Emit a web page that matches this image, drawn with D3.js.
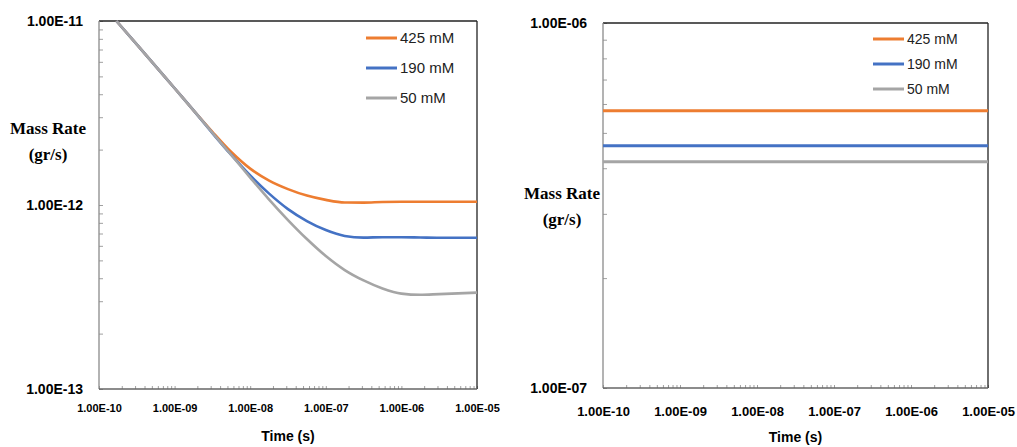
<!DOCTYPE html>
<html>
<head>
<meta charset="utf-8">
<script src="https://cdn.jsdelivr.net/npm/d3@7"></script>
<style>
body { margin: 0; background: #fff; }
svg { display: block; }
</style>
</head>
<body>
<div id="chart"></div>
<script>
// series names and colours (Excel default palette)
var seriesNames = ["425 mM", "190 mM", "50 mM"];
var seriesColors = ["#ED7D31", "#4472C4", "#A5A5A5"];

// left panel: mass rate vs time
var times = [1.7e-10, 3.16e-10, 1e-9, 1.78e-9, 3.16e-9, 5.62e-9, 1e-8, 1.78e-8, 3.16e-8, 5.62e-8,
             1e-7, 1.78e-7, 3.16e-7, 5.62e-7, 1e-6, 1.78e-6, 3.16e-6, 1e-5];
var rate425 = [1e-11, 7.47e-12, 4.31e-12, 3.27e-12, 2.50e-12, 1.94e-12, 1.576e-12, 1.357e-12, 1.22e-12, 1.125e-12,
               1.066e-12, 1.032e-12, 1.03e-12, 1.038e-12, 1.041e-12, 1.041e-12, 1.041e-12, 1.041e-12];
var rate190 = [1e-11, 7.47e-12, 4.31e-12, 3.27e-12, 2.46e-12, 1.87e-12, 1.446e-12, 1.153e-12, 9.50e-13, 8.18e-13,
               7.31e-13, 6.79e-13, 6.65e-13, 6.68e-13, 6.68e-13, 6.66e-13, 6.64e-13, 6.64e-13];
var rate50 = [1e-11, 7.47e-12, 4.31e-12, 3.27e-12, 2.47e-12, 1.87e-12, 1.41e-12, 1.07e-12, 8.28e-13, 6.53e-13,
              5.28e-13, 4.43e-13, 3.89e-13, 3.52e-13, 3.30e-13, 3.25e-13, 3.28e-13, 3.34e-13];

// right panel: constant rates
var flatTimes = [1e-10, 1e-5];
var flat425 = [5.75e-7, 5.75e-7];
var flat190 = [4.61e-7, 4.61e-7];
var flat50 = [4.17e-7, 4.17e-7];

// tick labels
var xTickLabels = ["1.00E-10", "1.00E-09", "1.00E-08", "1.00E-07", "1.00E-06", "1.00E-05"];
var leftYTickLabels = ["1.00E-13", "1.00E-12", "1.00E-11"];
var rightYTickLabels = ["1.00E-07", "1.00E-06"];

var sans = "Liberation Sans, Arial, sans-serif";

var svg = d3.select("#chart").append("svg")
  .attr("width", 1017)
  .attr("height", 447);

function drawPanel(p) {
  var x = d3.scaleLog().domain([1e-10, 1e-5]).range([p.left, p.right]);
  var y = d3.scaleLog().domain(p.yDomain).range([p.bottom, p.top]);
  var g = svg.append("g");

  var isMajor = function(d) { return Math.abs(Math.log10(d) - Math.round(Math.log10(d))) < 1e-9; };
  var xMajors = x.ticks().filter(isMajor);
  var yMajors = y.ticks().filter(isMajor);

  // x axis (ticks pointing inward)
  var xAxis = d3.axisBottom(x)
    .tickValues(x.ticks())
    .tickSize(-3)
    .tickPadding(p.xPad)
    .tickFormat(function(d) {
      var i = xMajors.findIndex(function(m) { return Math.abs(m - d) / m < 1e-6; });
      return i >= 0 ? xTickLabels[i] : "";
    });
  var gx = g.append("g")
    .attr("transform", "translate(0," + p.bottom + ")")
    .call(xAxis);
  gx.select(".domain").remove();
  gx.selectAll(".tick line").attr("stroke", "#a0a0a0");
  gx.selectAll(".tick text")
    .attr("font-family", sans)
    .attr("font-weight", "bold")
    .attr("font-size", p.xFont + "px")
    .attr("fill", "#000");

  // y axis (ticks pointing inward)
  var yAxis = d3.axisLeft(y)
    .tickValues(y.ticks())
    .tickSize(-4)
    .tickPadding(16)
    .tickFormat(function(d) {
      var i = yMajors.findIndex(function(m) { return Math.abs(m - d) / m < 1e-6; });
      return i >= 0 ? p.yLabels[i] : "";
    });
  var gy = g.append("g")
    .attr("transform", "translate(" + p.left + ",0)")
    .call(yAxis);
  gy.select(".domain").remove();
  gy.selectAll(".tick line").attr("stroke", "#a0a0a0");
  gy.selectAll(".tick text")
    .attr("font-family", sans)
    .attr("font-weight", "bold")
    .attr("font-size", "14px")
    .attr("fill", "#000");

  // frame
  g.append("line").attr("x1", p.left).attr("x2", p.right).attr("y1", p.top).attr("y2", p.top)
    .attr("stroke", "#222").attr("stroke-width", 1.3);
  g.append("line").attr("x1", p.right).attr("x2", p.right).attr("y1", p.top).attr("y2", p.bottom)
    .attr("stroke", "#222").attr("stroke-width", 1.3);
  g.append("line").attr("x1", p.left).attr("x2", p.left).attr("y1", p.top).attr("y2", p.bottom)
    .attr("stroke", "#8a8a8a").attr("stroke-width", 1.3);
  g.append("line").attr("x1", p.left).attr("x2", p.right).attr("y1", p.bottom).attr("y2", p.bottom)
    .attr("stroke", "#666").attr("stroke-width", 1.3);

  // series lines
  var line = d3.line()
    .x(function(d) { return x(d[0]); })
    .y(function(d) { return y(d[1]); })
    .curve(d3.curveMonotoneX);

  p.series.forEach(function(vals, i) {
    var pts = p.xs.map(function(t, j) { return [t, vals[j]]; });
    g.append("path")
      .datum(pts)
      .attr("fill", "none")
      .attr("stroke", seriesColors[i])
      .attr("stroke-width", p.lineWidth)
      .attr("d", line);
  });

  // legend
  seriesNames.forEach(function(name, i) {
    var ly = p.legY + i * p.legGap;
    g.append("line")
      .attr("x1", p.legX).attr("x2", p.legX + p.legLen)
      .attr("y1", ly).attr("y2", ly)
      .attr("stroke", seriesColors[i])
      .attr("stroke-width", 3);
    g.append("text")
      .attr("x", p.legX + p.legLen + 3)
      .attr("y", ly)
      .attr("dy", "0.35em")
      .attr("font-family", sans)
      .attr("font-size", p.legFont + "px")
      .attr("fill", "#222")
      .text(name);
  });

  // axis titles
  g.append("text")
    .attr("x", (p.left + p.right) / 2)
    .attr("y", p.xTitleY)
    .attr("dy", "0.35em")
    .attr("text-anchor", "middle")
    .attr("font-family", sans)
    .attr("font-weight", "bold")
    .attr("font-size", "14px")
    .text("Time (s)");

  g.append("text")
    .attr("x", p.yTitleX)
    .attr("y", p.yTitleY)
    .attr("dy", "0.35em")
    .attr("text-anchor", "middle")
    .attr("font-family", "Liberation Serif, Times New Roman, serif")
    .attr("font-weight", "bold")
    .attr("font-size", "17px")
    .text("Mass Rate");
  g.append("text")
    .attr("x", p.yTitleX)
    .attr("y", p.yTitleY + 26)
    .attr("dy", "0.35em")
    .attr("text-anchor", "middle")
    .attr("font-family", "Liberation Serif, Times New Roman, serif")
    .attr("font-weight", "bold")
    .attr("font-size", "17px")
    .text("(gr/s)");
}

drawPanel({
  left: 99, right: 477, top: 21, bottom: 389,
  yDomain: [1e-13, 1e-11], yLabels: leftYTickLabels,
  xs: times, series: [rate425, rate190, rate50], lineWidth: 2.6,
  xPad: 15, xFont: 11,
  legX: 366, legY: 38, legGap: 30, legLen: 31, legFont: 15,
  xTitleY: 436, yTitleX: 48, yTitleY: 128
});

drawPanel({
  left: 603, right: 988, top: 23, bottom: 388,
  yDomain: [1e-7, 1e-6], yLabels: rightYTickLabels,
  xs: flatTimes, series: [flat425, flat190, flat50], lineWidth: 3,
  xPad: 19, xFont: 13,
  legX: 873, legY: 39, legGap: 25, legLen: 31, legFont: 14,
  xTitleY: 437, yTitleX: 562, yTitleY: 193
});
</script>
</body>
</html>
